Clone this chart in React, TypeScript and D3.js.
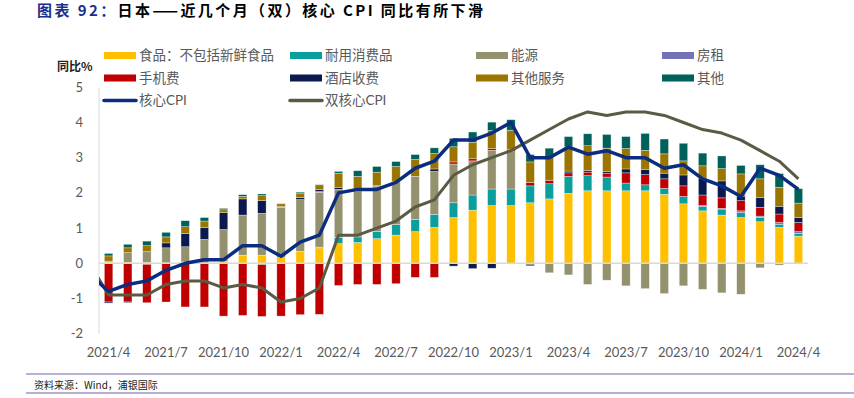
import React, { useEffect, useRef } from 'react';
import * as d3 from 'd3';

const months = [
  '2021/4', '2021/5', '2021/6', '2021/7', '2021/8', '2021/9', '2021/10', '2021/11', '2021/12',
  '2022/1', '2022/2', '2022/3', '2022/4', '2022/5', '2022/6', '2022/7', '2022/8', '2022/9',
  '2022/10', '2022/11', '2022/12', '2023/1', '2023/2', '2023/3', '2023/4', '2023/5', '2023/6',
  '2023/7', '2023/8', '2023/9', '2023/10', '2023/11', '2023/12', '2024/1', '2024/2', '2024/3',
  '2024/4',
];
const tickMonths = [
  '2021/4', '2021/7', '2021/10', '2022/1', '2022/4', '2022/7', '2022/10',
  '2023/1', '2023/4', '2023/7', '2023/10', '2024/1', '2024/4',
];
const yTicks = [-2, -1, 0, 1, 2, 3, 4, 5];

// contributions, pp
const food = [0.03, 0.02, 0.02, 0.01, 0.04, 0.01, 0.05, 0.23, 0.23, 0.16, 0.34, 0.44, 0.56, 0.59, 0.7, 0.8, 0.9, 1.02, 1.3, 1.51, 1.64, 1.64, 1.72, 1.83, 1.99, 2.06, 2.06, 2.06, 2.06, 1.96, 1.69, 1.49, 1.37, 1.3, 1.18, 1.02, 0.77];
const durable = [0, 0, -0.03, 0, 0, 0, 0, 0, -0.04, 0, 0, 0.02, 0.17, 0.16, 0.2, 0.3, 0.35, 0.37, 0.42, 0.43, 0.47, 0.47, 0.48, 0.43, 0.48, 0.43, 0.39, 0.22, 0.17, 0.17, 0.21, 0.12, 0.17, 0.14, 0.12, 0.09, 0.08];
const energy = [0.03, 0.28, 0.31, 0.43, 0.43, 0.67, 0.91, 1.14, 1.19, 1.43, 1.47, 1.56, 1.37, 1.29, 1.29, 1.22, 1.22, 1.22, 1.1, 0.97, 1.1, 1.06, -0.03, -0.27, -0.33, -0.6, -0.48, -0.64, -0.72, -0.86, -0.64, -0.74, -0.84, -0.88, -0.13, -0.05, 0];
const rent = [0, 0, 0, 0, 0, 0, 0, 0, 0, 0.02, 0, 0.02, 0, 0, 0, 0, 0, 0, 0, 0, 0, 0, 0, 0, 0, 0, 0, 0, 0, 0, 0, 0.03, 0.02, 0.05, 0.04, 0.05, 0.05];
const mobile = [-1.1, -1.1, -1.09, -1.1, -1.24, -1.24, -1.5, -1.48, -1.47, -1.5, -1.46, -1.45, -0.63, -0.6, -0.6, -0.58, -0.4, -0.4, 0.06, 0.06, 0.05, 0.07, 0.1, 0.1, 0.1, 0.1, 0.1, 0.29, 0.29, 0.27, 0.3, 0.3, 0.3, 0.29, 0.25, 0.24, 0.26];
const hotel = [-0.03, -0.02, 0, 0.14, 0.38, 0.34, 0.48, 0.46, 0.36, 0, 0.06, 0.06, 0.06, 0.03, 0.02, 0, 0, 0.07, -0.08, -0.15, -0.14, -0.02, -0.04, 0, 0.05, 0.05, 0.05, 0.11, 0.14, 0.16, 0.31, 0.48, 0.48, 0.13, 0.28, 0.22, 0.14];
const otherSvc = [0.15, 0.14, 0.17, 0.17, 0.19, 0.18, 0.08, 0.07, 0.14, 0.08, 0.11, 0.13, 0.4, 0.4, 0.38, 0.43, 0.48, 0.44, 0.43, 0.47, 0.51, 0.54, 0.58, 0.67, 0.69, 0.7, 0.67, 0.58, 0.55, 0.55, 0.4, 0.35, 0.35, 0.63, 0.53, 0.54, 0.41];
const other = [0.07, 0.1, 0.13, 0.13, 0.17, 0.1, 0.04, 0.05, 0.05, 0.01, 0.04, 0.01, 0.05, 0.16, 0.16, 0.14, 0.14, 0.16, 0.24, 0.29, 0.24, 0.3, 0.21, 0.24, 0.29, 0.34, 0.39, 0.34, 0.48, 0.42, 0.5, 0.36, 0.36, 0.24, 0.4, 0.39, 0.41];

// lines start one month earlier (2021/3), clipped at the plot edge
const lineMonths = ['2021/3', ...months];
const coreCpi = [-0.3, -0.8, -0.6, -0.5, -0.2, 0.0, 0.1, 0.1, 0.5, 0.5, 0.2, 0.6, 0.8, 2.0, 2.1, 2.1, 2.3, 2.7, 2.9, 3.5, 3.5, 3.7, 4.0, 3.0, 3.0, 3.3, 3.1, 3.2, 3.0, 3.0, 2.7, 2.8, 2.4, 2.2, 1.9, 2.7, 2.5, 2.1];
const coreCoreCpi = [0.0, -0.9, -0.9, -0.9, -0.6, -0.5, -0.5, -0.7, -0.6, -0.7, -1.1, -1.0, -0.7, 0.8, 0.8, 1.0, 1.2, 1.6, 1.8, 2.5, 2.8, 3.0, 3.2, 3.5, 3.8, 4.1, 4.3, 4.2, 4.3, 4.3, 4.2, 4.0, 3.8, 3.7, 3.5, 3.2, 2.9, 2.4];

const barKeys = ['food', 'durable', 'energy', 'rent', 'mobile', 'hotel', 'otherSvc', 'other'];
const barNames = ['食品：不包括新鲜食品', '耐用消费品', '能源', '房租', '手机费', '酒店收费', '其他服务', '其他'];
const barColors = ['#FFC000', '#0A9E9C', '#94916F', '#7272B4', '#C00000', '#0A1A4E', '#9A7500', '#00605A'];
const lineNames = ['核心CPI', '双核心CPI'];
const lineColors = ['#0A2D80', '#5B5B45'];

const width = 854;
const height = 398;
const plotLeft = 99;
const plotRight = 808;
const numFont = "Lato, 'Noto Sans CJK SC', sans-serif";
const cjkFont = "'Noto Sans CJK SC', sans-serif";

export default function App() {
  const ref = useRef<SVGSVGElement>(null);

  useEffect(() => {
    const svg = d3.select(ref.current);
    svg.selectAll('*').remove();

    const series = [food, durable, energy, rent, mobile, hotel, otherSvc, other];
    const table = months.map((m, i) => {
      const row: any = { month: m };
      barKeys.forEach((k, j) => (row[k] = series[j][i]));
      return row;
    });

    const x = d3.scaleBand().domain(months).range([plotLeft, plotRight]);
    const xi = d3
      .scaleLinear()
      .domain([-0.5, months.length - 0.5])
      .range([plotLeft, plotRight]);
    const y = d3.scaleLinear().domain([-2, 5]).range([333.7, 87.3]);

    // title
    const title = svg
      .append('text')
      .attr('x', 37)
      .attr('y', 16)
      .attr('font-family', cjkFont)
      .attr('font-weight', 'bold')
      .attr('font-size', 15)
      .attr('textLength', 446)
      .attr('lengthAdjust', 'spacing');
    title.append('tspan').attr('fill', '#1C2E8C').text('图表 92：');
    title.append('tspan').attr('fill', '#000').text('日本——近几个月（双）核心 CPI 同比有所下滑');

    svg
      .append('text')
      .attr('x', 57)
      .attr('y', 71)
      .attr('font-family', cjkFont)
      .attr('font-weight', 'bold')
      .attr('font-size', 12)
      .attr('fill', '#222')
      .text('同比%');

    // axes
    svg
      .append('line')
      .attr('x1', plotLeft)
      .attr('x2', plotLeft)
      .attr('y1', y(5))
      .attr('y2', y(-2))
      .attr('stroke', '#D9D9D9')
      .attr('stroke-width', 1);

    svg
      .append('g')
      .selectAll('text')
      .data(yTicks)
      .join('text')
      .attr('x', 83)
      .attr('y', (d) => y(d))
      .attr('dy', '0.35em')
      .attr('text-anchor', 'end')
      .attr('font-family', numFont)
      .attr('font-size', 13)
      .attr('fill', '#595959')
      .text((d) => d);

    svg
      .append('g')
      .selectAll('text')
      .data(tickMonths)
      .join('text')
      .attr('x', (d) => (x(d) as number) + x.bandwidth() / 2)
      .attr('y', 357)
      .attr('text-anchor', 'middle')
      .attr('font-family', numFont)
      .attr('font-size', 13)
      .attr('fill', '#595959')
      .text((d) => d);

    // bars
    const stack = d3.stack<any>().keys(barKeys).offset(d3.stackOffsetDiverging);
    const stacked = stack(table);
    const bw = x.bandwidth() * 0.44;
    svg
      .append('g')
      .selectAll('g')
      .data(stacked)
      .join('g')
      .attr('fill', (_, i) => barColors[i])
      .selectAll('rect')
      .data((d) => d)
      .join('rect')
      .attr('x', (d) => (x(d.data.month) as number) + (x.bandwidth() - bw) / 2)
      .attr('width', bw)
      .attr('y', (d) => y(Math.max(d[0], d[1])))
      .attr('height', (d) => Math.abs(y(d[0]) - y(d[1])))
      .attr('stroke', '#fff')
      .attr('stroke-opacity', 0.55)
      .attr('stroke-width', 0.6);

    svg
      .append('line')
      .attr('x1', plotLeft)
      .attr('x2', plotRight)
      .attr('y1', y(0))
      .attr('y2', y(0))
      .attr('stroke', '#D9D9D9')
      .attr('stroke-width', 1.5);

    // lines
    svg
      .append('clipPath')
      .attr('id', 'plotClip')
      .append('rect')
      .attr('x', plotLeft)
      .attr('y', 0)
      .attr('width', plotRight - plotLeft)
      .attr('height', height);

    const line = d3
      .line<number>()
      .x((_, i) => xi(i - 1))
      .y((d) => y(d));

    [coreCoreCpi, coreCpi].forEach((vals, k) => {
      svg
        .append('path')
        .datum(vals)
        .attr('clip-path', 'url(#plotClip)')
        .attr('fill', 'none')
        .attr('stroke', lineColors[1 - k])
        .attr('stroke-width', k === 0 ? 3 : 3.5)
        .attr('stroke-linejoin', 'round')
        .attr('d', line);
    });

    // legend
    const legend = svg.append('g');
    const allNames = [...barNames, ...lineNames];
    allNames.forEach((name, i) => {
      const col = i % 4;
      const row = Math.floor(i / 4);
      const lx = 104 + col * 186;
      const ly = 55.5 + row * 22.5;
      if (i < barNames.length) {
        legend
          .append('rect')
          .attr('x', lx)
          .attr('y', ly - 3.5)
          .attr('width', 32)
          .attr('height', 7)
          .attr('fill', barColors[i]);
      } else {
        legend
          .append('line')
          .attr('x1', lx)
          .attr('x2', lx + 32)
          .attr('y1', ly)
          .attr('y2', ly)
          .attr('stroke', lineColors[i - barNames.length])
          .attr('stroke-width', 3.5)
          .attr('stroke-linecap', 'round');
      }
      legend
        .append('text')
        .attr('x', lx + 35)
        .attr('y', ly)
        .attr('dy', '0.35em')
        .attr('font-family', numFont)
        .attr('font-size', 13.5)
        .attr('fill', '#595959')
        .text(name);
    });

    // footer
    [374, 393].forEach((ly) => {
      svg
        .append('line')
        .attr('x1', 26)
        .attr('x2', width)
        .attr('y1', ly)
        .attr('y2', ly)
        .attr('stroke', '#6F64A8')
        .attr('stroke-width', 1.2);
    });
    svg
      .append('text')
      .attr('x', 34)
      .attr('y', 385)
      .attr('dy', '0.35em')
      .attr('font-family', cjkFont)
      .attr('font-size', 10)
      .attr('fill', '#222')
      .text('资料来源：Wind，浦银国际');
  }, []);

  return (
    <svg
      ref={ref}
      width={width}
      height={height}
      viewBox={`0 0 ${width} ${height}`}
      style={{ position: 'absolute', left: 0, top: 0, background: '#fff' }}
    />
  );
}
